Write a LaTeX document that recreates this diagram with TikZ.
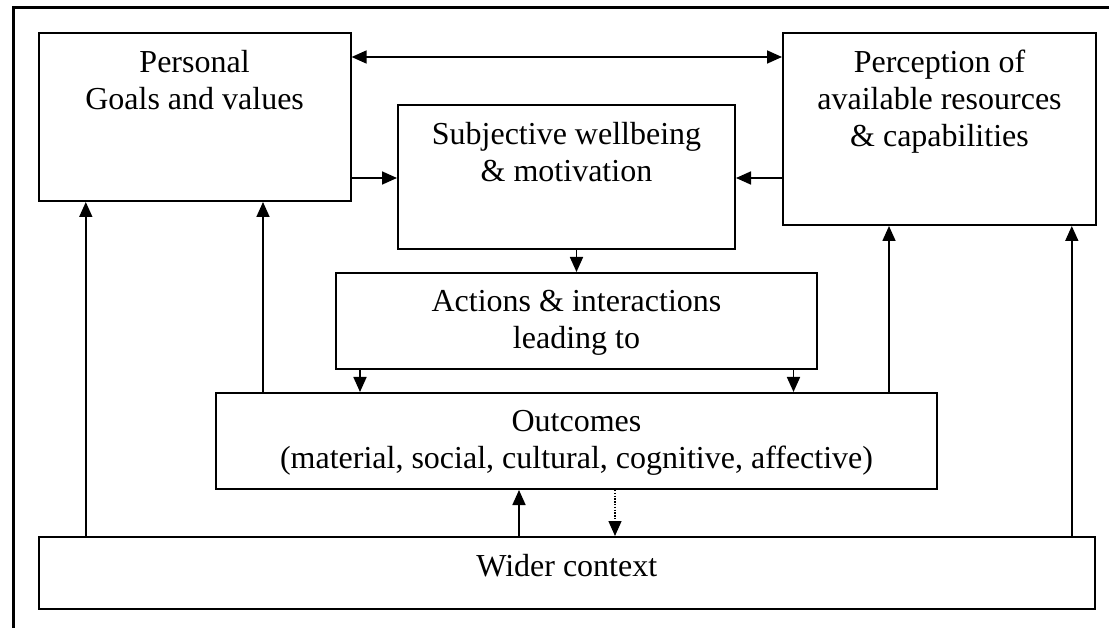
\documentclass[tikz,border=0pt]{standalone}
\usepackage{fontspec}
\setmainfont{Liberation Serif}
\usetikzlibrary{positioning, arrows.meta}

\begin{document}
\begin{tikzpicture}[
  x=1pt, y=-1pt,
  box/.style={rectangle, draw=black, line width=2pt, inner sep=0pt},
  txt/.style={align=center, inner sep=0pt, font=\fontsize{32}{36.8}\selectfont},
  arrow/.style={-{Triangle[length=15pt, width=13pt]}, line width=1.7pt},
  dblarrow/.style={{Triangle[length=15pt, width=13pt]}-{Triangle[length=15pt, width=13pt]}, line width=1.7pt},
  dotarrow/.style={arrow, line width=1.4pt, dash pattern=on 1.4pt off 1.4pt}
]
\useasboundingbox (0,0) rectangle (1109,628);
\draw[line width=2.2pt] (1109,7.5) -| (13.5,628);

\node[box, minimum width=312pt, minimum height=168pt] (goals) at (194.6,117) {};
\node[box, minimum width=313pt, minimum height=192pt] (resources) at (939.5,129) {};
\node[box, minimum width=337pt, minimum height=144pt] (wellbeing) at (566.5,177) {};
\node[box, minimum width=481pt, minimum height=96pt] (actions) at (576.5,321) {};
\node[box, minimum width=721pt, minimum height=96pt] (outcomes) at (576.5,441) {};
\node[box, minimum width=1056pt, minimum height=72pt] (context) at (566.8,573) {};

\node[txt, below=18pt of goals.north] {Personal\\Goals and values};
\node[txt, below=18pt of resources.north] {Perception of\\available resources\\\& capabilities};
\node[txt, below=18pt of wellbeing.north] {Subjective wellbeing\\\& motivation};
\node[txt, below=18pt of actions.north] {Actions \& interactions\\leading to};
\node[txt, below=18pt of outcomes.north] {Outcomes\\(material, social, cultural, cognitive, affective)};
\node[txt, below=18pt of context.north] {Wider context};

% arrows between the boxes
\draw[dblarrow] ([yshift=-25pt]goals.north east) -- ([yshift=-25pt]resources.north west);
\coordinate (gw) at ([yshift=24pt]goals.south east);
\draw[arrow] (gw) -- (gw -| wellbeing.west);
\coordinate (rw) at ([yshift=48pt]resources.south west);
\draw[arrow] (rw) -- (rw -| wellbeing.east);
\draw[arrow] (wellbeing.south -| actions.north) -- (actions.north);
\coordinate (al) at ([xshift=25pt]actions.south west);
\coordinate (ar) at ([xshift=-24.5pt]actions.south east);
\draw[arrow] (al) -- (al |- outcomes.north);
\draw[arrow] (ar) -- (ar |- outcomes.north);
\coordinate (og) at ([xshift=48pt]outcomes.north west);
\coordinate (or) at ([xshift=-49pt]outcomes.north east);
\draw[arrow] (og) -- (og |- goals.south);
\draw[arrow] (or) -- (or |- resources.south);
\coordinate (cg) at ([xshift=48pt]context.north west);
\coordinate (cr) at ([xshift=-24pt]context.north east);
\draw[arrow] (cg) -- (cg |- goals.south);
\draw[arrow] (cr) -- (cr |- resources.south);
\coordinate (co) at ([xshift=-57.5pt]outcomes.south);
\coordinate (oc) at ([xshift=38.5pt]outcomes.south);
\draw[arrow] (co |- context.north) -- (co);
\draw[dotarrow] (oc) -- (oc |- context.north);
\end{tikzpicture}
\end{document}
